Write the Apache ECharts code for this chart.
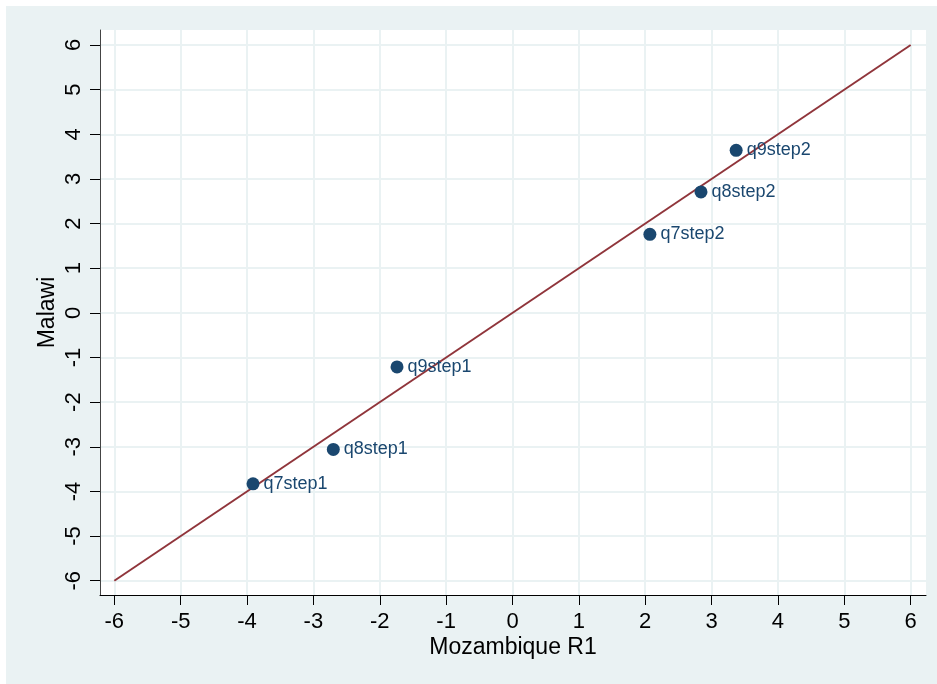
<!DOCTYPE html>
<html>
<head>
<meta charset="utf-8">
<script src="https://cdn.jsdelivr.net/npm/echarts@6/dist/echarts.min.js"></script>
<style>
  html, body { margin: 0; padding: 0; background: #fff; overflow: hidden; }
  #chart { position: absolute; left: 6px; top: 6px; width: 931px; height: 678px; }
</style>
</head>
<body>
<div id="chart"></div>
<script>
// values
var names = ['q7step1', 'q8step1', 'q9step1', 'q7step2', 'q8step2', 'q9step2'];
var xVals = [-3.91, -2.70, -1.74, 2.07, 2.84, 3.37];
var yVals = [-3.83, -3.06, -1.21, 1.76, 2.71, 3.64];
var tickVals = [-6, -5, -4, -3, -2, -1, 0, 1, 2, 3, 4, 5, 6];
var lineEnds = [-6, 6];

var chart = echarts.init(document.getElementById('chart'));

var points = names.map(function (n, i) {
  return { name: n, value: [xVals[i], yVals[i]] };
});

var font = 'Liberation Sans, Arial, Helvetica, sans-serif';

var option = {
  backgroundColor: '#EAF2F3',
  animation: false,
  grid: {
    left: 94, top: 24, right: 11, bottom: 89,
    show: true, backgroundColor: '#fff', borderWidth: 0
  },
  xAxis: {
    type: 'value',
    min: -6.2155, max: 6.2305,
    name: 'Mozambique R1',
    nameLocation: 'middle',
    nameGap: 41,
    nameMoveOverlap: false,
    nameTextStyle: { fontFamily: font, fontSize: 23, color: '#000' },
    axisLine: { show: true, onZero: false, lineStyle: { color: '#000', width: 1 } },
    axisTick: { show: true, customValues: tickVals, length: 10, lineStyle: { color: '#000' } },
    axisLabel: { customValues: tickVals, fontFamily: font, fontSize: 22, color: '#000', margin: 16 },
    splitLine: { show: true, lineStyle: { color: '#EAF2F3', width: 2 } }
  },
  yAxis: {
    type: 'value',
    min: -6.32, max: 6.336,
    name: 'Malawi',
    nameLocation: 'middle',
    nameGap: 41,
    nameRotate: 90,
    nameMoveOverlap: false,
    nameTextStyle: { fontFamily: font, fontSize: 23, color: '#000' },
    axisLine: { show: true, onZero: false, lineStyle: { color: '#444', width: 1 } },
    axisTick: { show: true, customValues: tickVals, length: 10, lineStyle: { color: '#000' } },
    axisLabel: { customValues: tickVals, rotate: 90, fontFamily: font, fontSize: 22, color: '#000', margin: 15 },
    splitLine: { show: true, lineStyle: { color: '#EAF2F3', width: 2 } }
  },
  series: [
    {
      type: 'line',
      data: lineEnds.map(function (v) { return [v, v]; }),
      symbol: 'none',
      lineStyle: { color: '#90353B', width: 2 },
      z: 2
    },
    {
      type: 'scatter',
      data: points,
      symbolSize: 13,
      itemStyle: { color: '#1A476F', opacity: 1 },
      label: {
        show: true,
        position: 'right',
        distance: 4,
        formatter: '{b}',
        fontFamily: font,
        fontSize: 18,
        padding: [3, 0, 0, 0],
        color: '#1A476F'
      },
      z: 3
    }
  ]
};

chart.setOption(option);
</script>
</body>
</html>
